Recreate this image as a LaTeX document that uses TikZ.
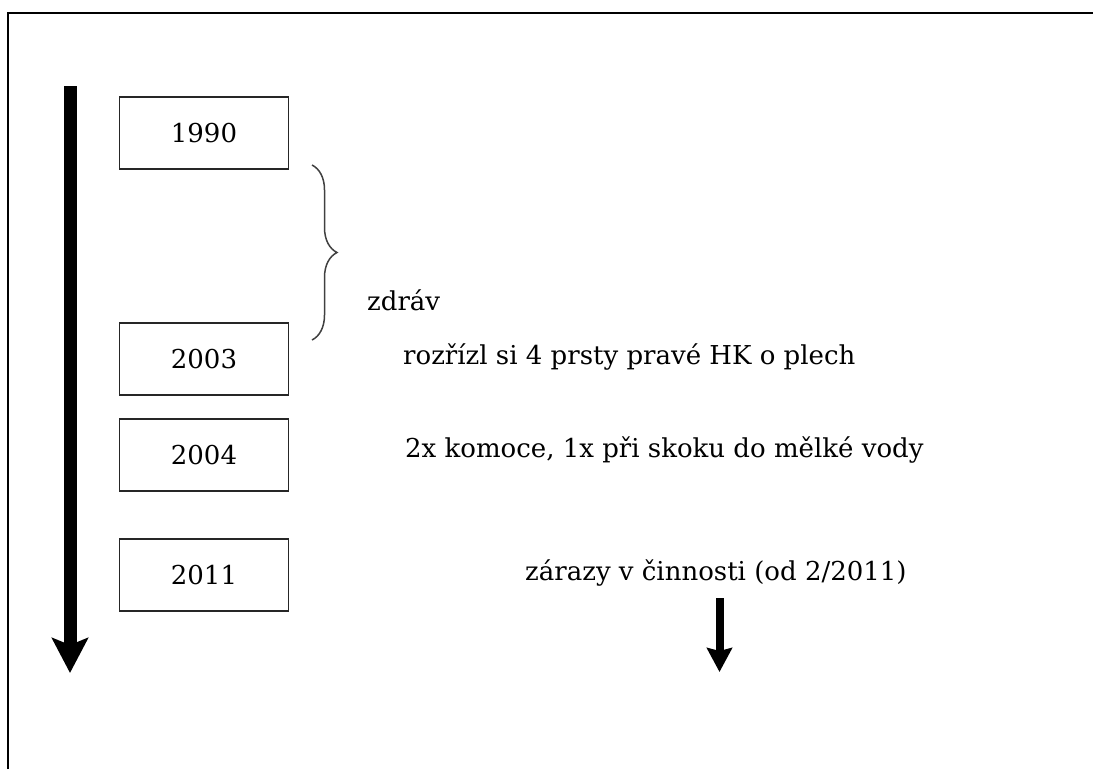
\documentclass[tikz,border=0pt]{standalone}
\usepackage{fontspec}
\setmainfont{DejaVu Serif}
\usetikzlibrary{arrows.meta,decorations.pathreplacing}

\tikzset{
  yearbox/.style={draw=black!85, line width=1.8pt, minimum width=169pt,
    minimum height=72pt, inner sep=0pt, font=\fontsize{26}{30}\selectfont},
  note/.style={anchor=base west, inner sep=0pt, font=\fontsize{26}{30}\selectfont},
  timeline/.style={line width=13pt,
    -{Stealth[length=35pt, width=36pt, inset=7pt]}},
  nextstep/.style={line width=8pt,
    -{Stealth[length=24pt, width=25pt, inset=3pt]}},
  bracket/.style={draw=black!75, line width=1.5pt, decorate,
    decoration={brace, amplitude=25pt, aspect=0.5}}
}

\begin{document}
\begin{tikzpicture}[x=1pt, y=-1pt]
  \useasboundingbox (0,0) rectangle (1093,769);

  % outer frame (left and top edges)
  \draw[line width=2pt] (8,769) -- (8,13) -- (1093,13);

  % main time axis
  \coordinate (axisTop) at (70,86);
  \coordinate (axisEnd) at (70,673);
  \draw[timeline] (axisTop) -- (axisEnd);

  % years
  \node[yearbox] (y1990) at (204,133) {1990};
  \node[yearbox] (y2003) at (204,359) {2003};
  \node[yearbox] (y2004) at (204,455) {2004};
  \node[yearbox] (y2011) at (204,575) {2011};

  % healthy period 1990--2003
  \coordinate (braceTop) at (312,165);
  \coordinate (braceBot) at (312,340);
  \draw[bracket] (braceTop) -- (braceBot);

  % events
  \node[note] (healthy) at (367,310) {zdráv};
  \node[note] (cut) at (403,364) {rozřízl si 4 prsty pravé HK o plech};
  \node[note] (concussion) at (405,457) {2x komoce, 1x při skoku do mělké vody};
  \node[note] (stops) at (525,580) {zárazy v činnosti (od 2/2011)};

  % continuation
  \coordinate (nowTop) at (719.5,598);
  \coordinate (nowEnd) at (719.5,672);
  \draw[nextstep] (nowTop) -- (nowEnd);
\end{tikzpicture}
\end{document}
